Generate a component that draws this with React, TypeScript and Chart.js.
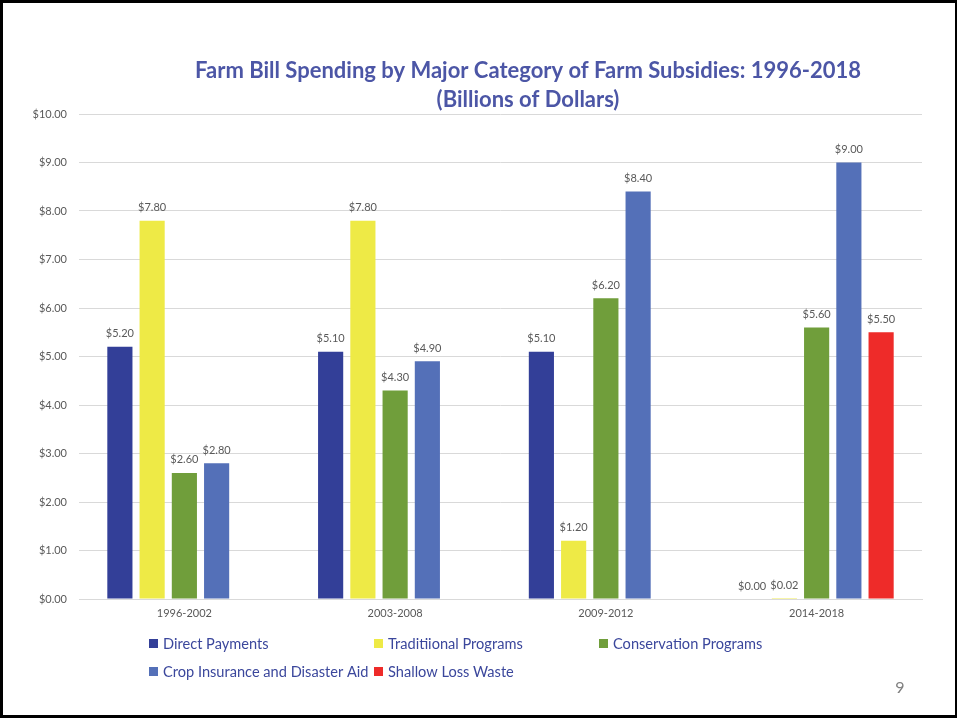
import React, { useEffect, useRef } from "react";
import { Chart, registerables } from "chart.js";

Chart.register(...registerables);

const categories = ["1996-2002", "2003-2008", "2009-2012", "2014-2018"];
const seriesNames = [
  "Direct Payments",
  "Traditiional Programs",
  "Conservation Programs",
  "Crop Insurance and Disaster Aid",
  "Shallow Loss Waste",
];
const directPayments = [5.2, 5.1, 5.1, 0];
const traditionalPrograms = [7.8, 7.8, 1.2, 0.02];
const conservationPrograms = [2.6, 4.3, 6.2, 5.6];
const cropInsurance = [2.8, 4.9, 8.4, 9.0];
const shallowLoss = [null, null, null, 5.5];
const seriesColors = ["#333F98", "#EEEA46", "#709E3B", "#5470B8", "#EE2B29"];
const yTicks = { min: 0, max: 10, step: 1 };
const titleLines = [
  "Farm Bill Spending by Major Category of Farm Subsidies: 1996-2018",
  "(Billions of Dollars)",
];
const pageNumber = "9";

const FONT = "Lato, 'Noto Sans', sans-serif";

const fmt = (v: number) => "$" + v.toFixed(2);

const decorPlugin = {
  id: "decor",
  beforeDraw(chart: any) {
    const ctx = chart.ctx;
    ctx.save();
    ctx.fillStyle = "#ffffff";
    ctx.fillRect(0, 0, chart.width, chart.height);
    ctx.restore();
  },
  afterDraw(chart: any) {
    const ctx = chart.ctx;
    ctx.save();
    // border
    ctx.fillStyle = "#000000";
    ctx.fillRect(0, 0, 957, 3);
    ctx.fillRect(0, 0, 3, 718);
    ctx.fillRect(0, 715, 957, 3);
    ctx.fillRect(955, 0, 2, 718);

    // title
    ctx.fillStyle = "#4C56A6";
    ctx.font = "bold 22px " + FONT;
    ctx.textAlign = "center";
    ctx.textBaseline = "middle";
    ctx.fillText(titleLines[0], 528, 71);
    ctx.fillText(titleLines[1], 528, 100);

    // data labels
    ctx.font = "11px " + FONT;
    ctx.fillStyle = "#595959";
    ctx.textBaseline = "middle";
    chart.data.datasets.forEach((ds: any, di: number) => {
      const meta = chart.getDatasetMeta(di);
      meta.data.forEach((bar: any, i: number) => {
        const v = ds.data[i];
        if (v === null || v === undefined) return;
        ctx.fillText(fmt(v), bar.x, bar.y - 13);
      });
    });

    // legend
    const legendPos = [
      [149, 643],
      [374, 643],
      [599, 643],
      [149, 671],
      [374, 671],
    ];
    ctx.font = "14.6px " + FONT;
    ctx.textAlign = "left";
    seriesNames.forEach((name, i) => {
      const [x, y] = legendPos[i];
      ctx.fillStyle = seriesColors[i];
      ctx.fillRect(x, y - 4, 9, 9);
      ctx.fillStyle = "#3B479C";
      ctx.fillText(name, x + 14, y + 1);
    });

    // page number
    ctx.fillStyle = "#7F7F7F";
    ctx.font = "16px " + FONT;
    ctx.textAlign = "center";
    ctx.fillText(pageNumber, 900, 688);
    ctx.restore();
  },
};

export default function App() {
  const ref = useRef<HTMLCanvasElement>(null);
  useEffect(() => {
    document.body.style.margin = "0";
    const data = [directPayments, traditionalPrograms, conservationPrograms, cropInsurance, shallowLoss];
    const chart = new Chart(ref.current!, {
      type: "bar",
      data: {
        labels: categories,
        datasets: seriesNames.map((name, i) => ({
          label: name,
          data: data[i] as any,
          backgroundColor: seriesColors[i],
          categoryPercentage: 0.765,
          barPercentage: 0.78,
          skipNull: false,
        })),
      },
      options: {
        animation: false,
        responsive: false,
        maintainAspectRatio: false,
        layout: { padding: { left: 0, right: 37, top: 114, bottom: 90 } },
        plugins: {
          legend: { display: false },
          title: { display: false },
          tooltip: { enabled: false },
        },
        scales: {
          x: {
            grid: { display: false, drawTicks: false },
            border: { color: "#D9D9D9" },
            ticks: { color: "#595959", font: { family: FONT, size: 11 }, padding: 8 },
            afterFit(scale: any) {
              scale.height = 30;
            },
          },
          y: {
            min: yTicks.min,
            max: yTicks.max,
            grid: { color: "#D9D9D9", drawTicks: false },
            border: { display: false },
            ticks: {
              stepSize: yTicks.step,
              color: "#595959",
              font: { family: FONT, size: 11 },
              padding: 12,
              callback: (v: any) => fmt(Number(v)),
            },
            afterFit(scale: any) {
              scale.width = 79;
            },
          },
        },
      },
      plugins: [decorPlugin],
    });
    return () => chart.destroy();
  }, []);
  return (
    <div style={{ position: "fixed", left: 0, top: 0, width: 959, height: 719 }}>
      <canvas ref={ref} width={959} height={719} style={{ width: 959, height: 719, display: "block" }} />
    </div>
  );
}
